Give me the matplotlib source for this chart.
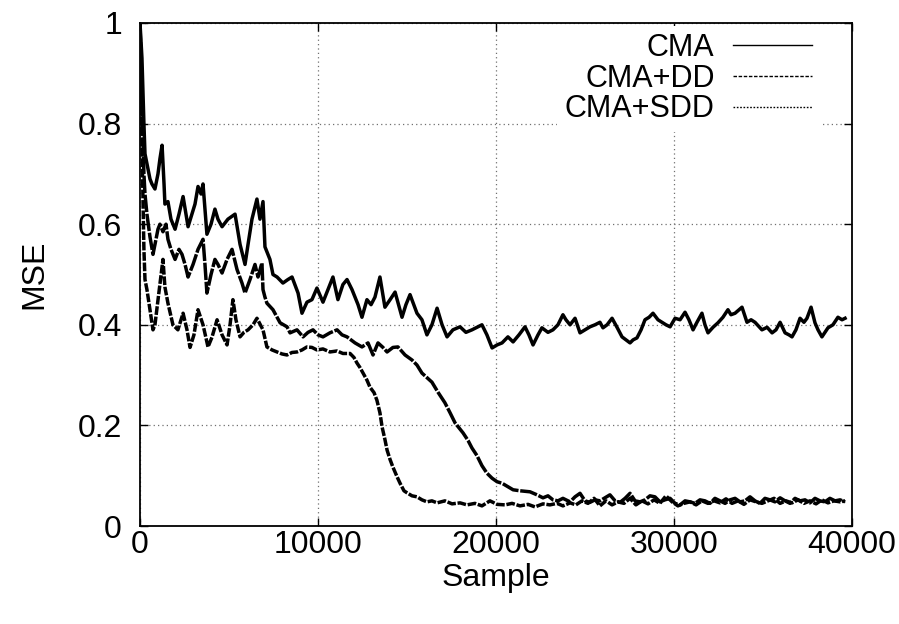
import matplotlib
matplotlib.use('Agg')
import matplotlib.pyplot as plt
from matplotlib.lines import Line2D
import numpy as np

# CMA (top curve)
cma_x = [0, 60, 110, 170, 220, 280, 390, 450, 560, 670, 840, 1010, 1120, 1240, 1350, 1400,
         1570, 1740, 1970, 2190, 2420, 2580, 2700, 2920, 3090, 3260, 3430, 3540, 3760, 3990,
         4210, 4380, 4610, 4940, 5340, 5620, 5900, 6070, 6290, 6570, 6740, 6910, 7020, 7300,
         7470, 7700, 8030, 8310, 8540, 8880, 9100, 9380, 9660, 9940, 10280, 10560, 10840,
         11120, 11400, 11630, 11910, 12250, 12470, 12750, 12980, 13200, 13480, 13760, 14050,
         14330, 14720, 14940, 15170, 15560, 15840, 16120, 16400, 16690, 16970, 17250, 17580,
         17980, 18310, 18650, 18930, 19210, 19490, 19780, 20060, 20340, 20670, 20960, 21290,
         21630, 21850, 22080, 22360, 22580, 22920, 23200, 23480, 23760, 23930, 24160, 24440,
         24720, 25000, 25280, 25560, 25840, 26010, 26240, 26520, 26800, 27080, 27300, 27530,
         27700, 27920, 28150, 28370, 28600, 28820, 29100, 29330, 29550, 29780, 30060, 30340,
         30620, 30840, 31070, 31290, 31570, 31740, 31910, 32190, 32470, 32750, 33030, 33200,
         33430, 33820, 34100, 34330, 34550, 34940, 35230, 35510, 35730, 35960, 36240, 36460,
         36630, 36850, 37080, 37300, 37470, 37700, 37920, 38090, 38310, 38650, 38930, 39210,
         39440, 39610]
cma_y = [1.00, 0.96, 0.93, 0.86, 0.80, 0.74, 0.72, 0.71, 0.69, 0.68, 0.67, 0.70, 0.73, 0.757,
         0.68, 0.64, 0.645, 0.61, 0.59, 0.62, 0.655, 0.62, 0.595, 0.62, 0.64, 0.675, 0.66, 0.68,
         0.58, 0.60, 0.63, 0.61, 0.595, 0.61, 0.62, 0.56, 0.52, 0.56, 0.61, 0.65, 0.61, 0.645,
         0.555, 0.53, 0.50, 0.495, 0.483, 0.49, 0.495, 0.463, 0.423, 0.445, 0.45, 0.473, 0.445,
         0.47, 0.495, 0.45, 0.48, 0.49, 0.47, 0.44, 0.415, 0.45, 0.44, 0.455, 0.495, 0.435,
         0.45, 0.465, 0.415, 0.44, 0.46, 0.423, 0.41, 0.38, 0.40, 0.433, 0.40, 0.376, 0.39,
         0.396, 0.385, 0.39, 0.395, 0.40, 0.38, 0.354, 0.36, 0.364, 0.376, 0.366, 0.38, 0.396,
         0.38, 0.36, 0.38, 0.394, 0.385, 0.39, 0.40, 0.42, 0.41, 0.40, 0.413, 0.384, 0.39,
         0.396, 0.40, 0.405, 0.394, 0.40, 0.413, 0.395, 0.376, 0.37, 0.364, 0.37, 0.374, 0.39,
         0.41, 0.415, 0.423, 0.41, 0.405, 0.40, 0.396, 0.413, 0.41, 0.425, 0.41, 0.39, 0.405,
         0.423, 0.40, 0.384, 0.395, 0.404, 0.415, 0.43, 0.42, 0.423, 0.435, 0.405, 0.41, 0.405,
         0.39, 0.395, 0.384, 0.39, 0.405, 0.384, 0.38, 0.376, 0.39, 0.413, 0.405, 0.413, 0.435,
         0.404, 0.39, 0.376, 0.394, 0.40, 0.415, 0.41, 0.413]

# CMA+DD (middle curve)
dd_x = [0, 60, 110, 170, 220, 280, 390, 560, 730, 900, 1010, 1120, 1290, 1460, 1570, 1740,
        1970, 2190, 2360, 2530, 2700, 2980, 3260, 3540, 3650, 3760, 3990, 4210, 4380, 4610,
        4890, 5170, 5450, 5730, 5900, 6180, 6460, 6630, 6850, 6910, 7020, 7130, 7470, 7870,
        8260, 8430, 8820, 9160, 9440, 9720, 10000, 10280, 10670, 11070, 11350, 11630, 12080,
        12470, 12810, 13090, 13370, 13650, 13880, 14210, 14490, 14890, 15280, 15560, 15840,
        16120, 16400, 16740, 17130, 17420, 17700, 18150, 18430, 18650, 18930, 19210, 19490,
        19780, 20060, 20340, 20670, 20960, 21350, 21910, 22300, 22640, 22920, 23200, 23480,
        23760, 24160, 24440, 24720, 25000, 25280, 25560, 25840, 26120, 26400, 26690, 26970,
        27250, 27530, 27810, 28090, 28370, 28650, 28930, 29210, 29490, 29780, 30060, 30340,
        30620, 30900, 31180, 31460, 31740, 32020, 32300, 32580, 32870, 33150, 33430, 33710,
        33990, 34270, 34550, 34830, 35110, 35390, 35670, 35960, 36240, 36520, 36800, 37080,
        37360, 37640, 37920, 38200, 38480, 38760, 39050, 39330, 39610]
dd_y = [1.00, 0.92, 0.84, 0.76, 0.70, 0.66, 0.62, 0.575, 0.54, 0.57, 0.59, 0.60, 0.585, 0.60,
        0.57, 0.55, 0.53, 0.55, 0.54, 0.52, 0.495, 0.52, 0.55, 0.57, 0.52, 0.463, 0.50, 0.53,
        0.52, 0.503, 0.53, 0.55, 0.51, 0.483, 0.463, 0.49, 0.52, 0.495, 0.523, 0.47, 0.455,
        0.443, 0.43, 0.404, 0.396, 0.384, 0.39, 0.376, 0.385, 0.39, 0.38, 0.376, 0.384, 0.39,
        0.38, 0.376, 0.364, 0.356, 0.364, 0.34, 0.364, 0.355, 0.346, 0.355, 0.356, 0.34, 0.33,
        0.32, 0.304, 0.295, 0.286, 0.266, 0.245, 0.225, 0.205, 0.185, 0.17, 0.155, 0.14, 0.12,
        0.105, 0.095, 0.088, 0.085, 0.078, 0.072, 0.07, 0.068, 0.062, 0.056, 0.06, 0.052, 0.05,
        0.055, 0.048, 0.058, 0.065, 0.05, 0.047, 0.052, 0.05, 0.056, 0.062, 0.05, 0.047, 0.055,
        0.065, 0.05, 0.048, 0.052, 0.06, 0.058, 0.048, 0.052, 0.055, 0.045, 0.042, 0.05, 0.048,
        0.045, 0.052, 0.05, 0.045, 0.055, 0.05, 0.045, 0.052, 0.055, 0.048, 0.05, 0.058, 0.05,
        0.045, 0.055, 0.052, 0.048, 0.056, 0.05, 0.045, 0.055, 0.05, 0.052, 0.046, 0.055, 0.05,
        0.048, 0.055, 0.05, 0.052, 0.048]

# CMA+SDD (bottom curve)
sdd_x = [0, 60, 110, 170, 220, 280, 390, 560, 730, 840, 960, 1120, 1290, 1400, 1570, 1850,
         2130, 2420, 2640, 2810, 3030, 3260, 3540, 3820, 4040, 4330, 4610, 4890, 5060, 5220,
         5390, 5620, 5840, 6070, 6350, 6570, 6910, 7130, 7420, 7700, 7980, 8260, 8540, 8820,
         9100, 9380, 9660, 9940, 10280, 10670, 11070, 11400, 11800, 12020, 12190, 12360, 12530,
         12750, 12920, 13150, 13310, 13480, 13600, 13760, 13880, 14050, 14210, 14440, 14610,
         14830, 15000, 15280, 15560, 15840, 16120, 16400, 16690, 17130, 17530, 17980, 18370,
         18820, 19210, 19660, 20060, 20510, 20900, 21350, 21800, 22190, 22640, 23030, 23430,
         23760, 24160, 24490, 24830, 25170, 25510, 25840, 26180, 26520, 26850, 27190, 27530,
         27860, 28200, 28540, 28880, 29210, 29550, 29890, 30220, 30560, 30900, 31240, 31570,
         31910, 32250, 32580, 32920, 33260, 33600, 33930, 34270, 34610, 34940, 35280, 35620,
         35960, 36290, 36630, 36970, 37300, 37640, 37980, 38310, 38650, 38990, 39330, 39610]
sdd_y = [1.00, 0.88, 0.76, 0.64, 0.55, 0.49, 0.47, 0.43, 0.39, 0.40, 0.435, 0.48, 0.53, 0.475,
         0.443, 0.40, 0.39, 0.423, 0.39, 0.355, 0.38, 0.43, 0.40, 0.356, 0.375, 0.41, 0.38,
         0.36, 0.40, 0.45, 0.41, 0.376, 0.385, 0.39, 0.40, 0.413, 0.39, 0.356, 0.35, 0.346,
         0.342, 0.34, 0.345, 0.346, 0.35, 0.356, 0.355, 0.35, 0.352, 0.346, 0.348, 0.343,
         0.343, 0.335, 0.324, 0.315, 0.304, 0.29, 0.276, 0.265, 0.25, 0.225, 0.197, 0.172,
         0.151, 0.132, 0.117, 0.098, 0.085, 0.07, 0.066, 0.06, 0.058, 0.052, 0.048, 0.05,
         0.046, 0.05, 0.044, 0.046, 0.042, 0.045, 0.04, 0.05, 0.043, 0.042, 0.045, 0.04, 0.043,
         0.038, 0.044, 0.042, 0.045, 0.04, 0.046, 0.042, 0.05, 0.045, 0.055, 0.04, 0.05, 0.042,
         0.048, 0.045, 0.055, 0.042, 0.05, 0.044, 0.052, 0.045, 0.06, 0.048, 0.04, 0.045,
         0.048, 0.042, 0.05, 0.045, 0.05, 0.046, 0.054, 0.045, 0.05, 0.043, 0.052, 0.048,
         0.045, 0.05, 0.055, 0.045, 0.05, 0.046, 0.052, 0.045, 0.05, 0.044, 0.052, 0.046,
         0.05, 0.048, 0.05]

labels = ['CMA', 'CMA+DD', 'CMA+SDD']
x_ticks = [0, 10000, 20000, 30000, 40000]
y_ticks = [0, 0.2, 0.4, 0.6, 0.8, 1]
y_ticklabels = ['0', '0.2', '0.4', '0.6', '0.8', '1']

plt.rcParams['font.family'] = ['Liberation Sans', 'DejaVu Sans']

fig = plt.figure(figsize=(8.99, 6.24), dpi=100)
ax = fig.add_axes([140/899, 98/624, 712/899, 503/624])

# noisy curves look like thick, nearly solid bands in the original
ax.plot(cma_x, cma_y, color='black', lw=2.5, solid_joinstyle='round')
ax.plot(dd_x, dd_y, color='black', lw=2.5, dashes=(5, 0.5))
ax.plot(sdd_x, sdd_y, color='black', lw=2.5, dashes=(2.5, 0.5))

ax.set_xlim(0, 40000)
ax.set_ylim(0, 1)
ax.set_xticks(x_ticks)
ax.set_yticks(y_ticks)
ax.set_yticklabels(y_ticklabels)
ax.tick_params(direction='in', length=6, width=1, top=True, right=True,
               labelsize=23, pad=3)
ax.tick_params(axis='y', pad=13)
ax.grid(True, color='#707070', linestyle=(0, (1, 2.5)), linewidth=0.9)
for s in ax.spines.values():
    s.set_linewidth(1.3)

ax.set_xlabel('Sample', fontsize=23, labelpad=2)
ax.set_ylabel('MSE', fontsize=23, labelpad=20)

handles = [Line2D([], [], color='black', lw=1.0),
           Line2D([], [], color='black', lw=1.0, dashes=(2.5, 1.2)),
           Line2D([], [], color='black', lw=1.0, dashes=(1.2, 1.2))]
leg = ax.legend(handles, labels, loc='upper right', bbox_to_anchor=(0.955, 0.995),
                fontsize=22, markerfirst=False, frameon=True, fancybox=False,
                framealpha=1, edgecolor='none', borderaxespad=0, borderpad=0.25,
                handlelength=2.6, handletextpad=0.6, labelspacing=0.02)
leg.get_frame().set_linewidth(0)

fig.savefig('out.png', dpi=100)
